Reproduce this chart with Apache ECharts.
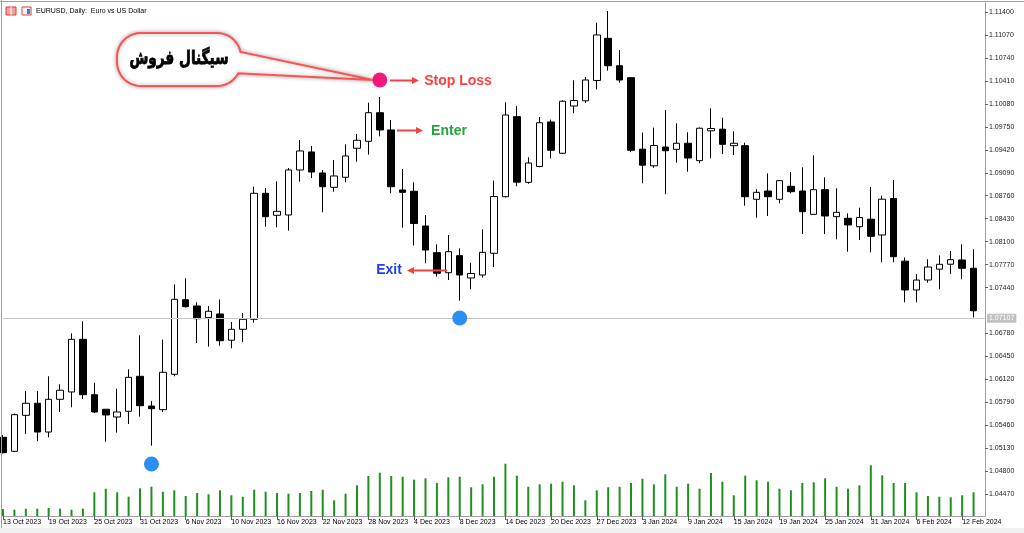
<!DOCTYPE html>
<html><head><meta charset="utf-8">
<script src="https://cdn.jsdelivr.net/npm/echarts@6/dist/echarts.min.js"></script>
<style>html,body{margin:0;padding:0;background:#fff;}#c{width:1024px;height:533px;}</style>
</head><body><div id="c"></div>
<script>
const DATES = ['13 Oct 2023','16 Oct 2023','17 Oct 2023','18 Oct 2023','19 Oct 2023','20 Oct 2023','23 Oct 2023','24 Oct 2023','25 Oct 2023','26 Oct 2023',
'27 Oct 2023','30 Oct 2023','31 Oct 2023','1 Nov 2023','2 Nov 2023','3 Nov 2023','6 Nov 2023','7 Nov 2023','8 Nov 2023','9 Nov 2023',
'10 Nov 2023','13 Nov 2023','14 Nov 2023','15 Nov 2023','16 Nov 2023','17 Nov 2023','20 Nov 2023','21 Nov 2023','22 Nov 2023','23 Nov 2023',
'24 Nov 2023','27 Nov 2023','28 Nov 2023','29 Nov 2023','30 Nov 2023','1 Dec 2023','4 Dec 2023','5 Dec 2023','6 Dec 2023','7 Dec 2023',
'8 Dec 2023','11 Dec 2023','12 Dec 2023','13 Dec 2023','14 Dec 2023','15 Dec 2023','18 Dec 2023','19 Dec 2023','20 Dec 2023','21 Dec 2023',
'22 Dec 2023','26 Dec 2023','27 Dec 2023','28 Dec 2023','29 Dec 2023','2 Jan 2024','3 Jan 2024','4 Jan 2024','5 Jan 2024','8 Jan 2024',
'9 Jan 2024','10 Jan 2024','11 Jan 2024','12 Jan 2024','15 Jan 2024','16 Jan 2024','17 Jan 2024','18 Jan 2024','19 Jan 2024','22 Jan 2024',
'23 Jan 2024','24 Jan 2024','25 Jan 2024','26 Jan 2024','29 Jan 2024','30 Jan 2024','31 Jan 2024','1 Feb 2024','2 Feb 2024','5 Feb 2024',
'6 Feb 2024','7 Feb 2024','8 Feb 2024','9 Feb 2024','12 Feb 2024','13 Feb 2024'];

const OPEN = [1.05289,1.05088,1.05605,1.05778,1.05365,1.05835,1.05940,1.06697,1.05901,1.05692,
1.05581,1.05663,1.06166,1.05739,1.05686,1.06195,1.07266,1.07176,1.07008,1.07061,
1.06684,1.06841,1.06985,1.08795,1.08479,1.08483,1.09130,1.09389,1.09087,1.08881,
1.09025,1.09442,1.09542,1.09953,1.09705,1.08843,1.08824,1.08325,1.07942,1.07654,
1.07899,1.07578,1.07621,1.07933,1.08746,1.09896,1.08953,1.09180,1.09820,1.09370,
1.10049,1.10124,1.10416,1.11022,1.10628,1.10456,1.09429,1.09190,1.09460,1.09427,
1.09514,1.09264,1.09693,1.09716,1.09479,1.09479,1.08709,1.08828,1.08709,1.08896,
1.08828,1.08493,1.08847,1.08459,1.08436,1.08315,1.08423,1.08196,1.08720,1.07820,
1.07406,1.07549,1.07705,1.07776,1.07837,1.07718];
const HIGH = [1.05322,1.05631,1.05955,1.05955,1.06166,1.06051,1.06784,1.06956,1.06074,1.05696,
1.05988,1.06266,1.06755,1.05811,1.06692,1.07485,1.07574,1.07229,1.07176,1.07269,
1.06946,1.07075,1.08890,1.08871,1.08968,1.09159,1.09561,1.09475,1.09130,1.09274,
1.09499,1.09647,1.10097,1.10179,1.09848,1.09144,1.08953,1.08483,1.08062,1.08196,
1.08005,1.07798,1.08278,1.08979,1.10103,1.10047,1.09314,1.09891,1.09854,1.10133,
1.10419,1.10466,1.11246,1.11414,1.10854,1.10459,1.09669,1.09738,1.09992,1.09801,
1.09672,1.09741,1.10016,1.09881,1.09687,1.09522,1.08853,1.09082,1.08982,1.09101,
1.09169,1.09341,1.09025,1.08867,1.08508,1.08588,1.08886,1.08761,1.08986,1.07873,
1.07636,1.07848,1.07904,1.07966,1.08062,1.07991];
const LOW = [1.05057,1.05078,1.05337,1.05232,1.05289,1.05653,1.05720,1.05840,1.05638,1.05226,
1.05355,1.05480,1.05585,1.05169,1.05653,1.06166,1.07154,1.06644,1.06591,1.06605,
1.06568,1.06656,1.06936,1.08315,1.08307,1.08258,1.08962,1.09015,1.08522,1.08818,
1.08953,1.09249,1.09350,1.09614,1.08795,1.08301,1.08045,1.07789,1.07597,1.07549,
1.07252,1.07416,1.07585,1.07736,1.08735,1.08896,1.08932,1.09169,1.09295,1.09357,
1.09945,1.10093,1.10289,1.10557,1.10384,1.09386,1.08939,1.09161,1.08781,1.09235,
1.09105,1.09226,1.09298,1.09360,1.09345,1.08617,1.08445,1.08469,1.08651,1.08795,
1.08210,1.08486,1.08210,1.08134,1.07956,1.08124,1.07947,1.07804,1.07804,1.07229,
1.07229,1.07511,1.07417,1.07633,1.07559,1.07011];
const CLOSE = [1.05068,1.05614,1.05778,1.05365,1.05835,1.05965,1.06697,1.05901,1.05653,1.05610,
1.05653,1.06151,1.05743,1.05700,1.06223,1.07272,1.07166,1.06993,1.07100,1.06677,
1.06841,1.06985,1.08795,1.08459,1.08536,1.09130,1.09403,1.09101,1.08890,1.09044,
1.09331,1.09557,1.09953,1.09705,1.08890,1.08809,1.08361,1.07980,1.07646,1.07956,
1.07621,1.07643,1.07947,1.08749,1.09920,1.08955,1.09230,1.09809,1.09414,1.10118,
1.10128,1.10423,1.11070,1.10628,1.10423,1.09413,1.09199,1.09482,1.09407,1.09514,
1.09302,1.09730,1.09726,1.09499,1.09514,1.08746,1.08809,1.08746,1.08976,1.08818,
1.08531,1.08847,1.08469,1.08522,1.08340,1.08447,1.08177,1.08710,1.07884,1.07406,
1.07549,1.07736,1.07775,1.07841,1.07718,1.07107];
const VOLUME = [7000,6300,7300,7300,8000,7300,6300,7300,23700,27300,
23700,19300,27700,29300,24300,25700,20000,23000,21700,25700,
20700,19300,26300,24300,23000,22300,23000,25000,26300,15700,
22300,30700,40000,43300,40000,39300,36300,37700,33000,38700,
39300,28700,31700,39300,52300,40300,29300,31700,32300,34300,
30700,15700,25700,28700,29300,33000,37300,31700,41700,29300,
32300,27300,43000,34300,20700,40300,35700,34300,27300,25700,
33000,33700,37700,29300,27300,30700,50700,40700,33000,33000,
23700,20000,19300,18700,20700,23700];
const PRICE_TICKS = [1.04470,1.04800,1.05130,1.05460,1.05790,1.06120,1.06450,1.06780,1.07440,1.07770,
1.08100,1.08430,1.08760,1.09090,1.09420,1.09750,1.10080,1.10410,1.10740,1.11070,1.11400];
const STOP_LOSS_POINT = ['29 Nov 2023', 1.10423];
const EXIT_POINTS = [['8 Dec 2023', 1.07003], ['1 Nov 2023', 1.04906]];
const TITLE = 'EURUSD, Daily:  Euro vs US Dollar';
const SIGNAL_TEXT = 'سیگنال فروش';

const chart = echarts.init(document.getElementById('c'), null, {renderer: 'canvas'});
const candles = DATES.map((d, i) => [OPEN[i], CLOSE[i], LOW[i], HIGH[i]]);
const lastPrice = CLOSE[CLOSE.length - 1];

function arrow(x1, x2, y, color) {
  const dir = x2 > x1 ? 1 : -1;
  const hx = x2 - dir * 7;
  return [
    {type: 'line', z: 100, shape: {x1: x1, y1: y, x2: hx, y2: y}, style: {stroke: color, lineWidth: 2}},
    {type: 'polygon', z: 100, shape: {points: [[x2, y], [hx, y - 3.5], [hx, y + 3.5]]}, style: {fill: color}}
  ];
}
function tag(text, cx, cy, color) {
  return {type: 'text', z: 101, x: cx, y: cy, style: {
    text: text, fill: color, font: 'bold 14px "Liberation Sans", Arial, sans-serif',
    align: 'center', verticalAlign: 'middle', stroke: '#ffffff', lineWidth: 4,
    shadowColor: 'rgba(0,0,0,0.28)', shadowBlur: 4}};
}
function arcPts(cx, cy, r, a0, a1) {
  const pts = [];
  const n = 10;
  for (let k = 0; k <= n; k++) {
    const a = (a0 + (a1 - a0) * k / n) * Math.PI / 180;
    pts.push([cx + r * Math.cos(a), cy + r * Math.sin(a)]);
  }
  return pts;
}
function bubblePoints() {
  const L = 117, R = 241, T = 33, B = 86, r = 24;
  return [].concat(
    arcPts(L + r, T + r, r, 180, 270),
    arcPts(R - r, T + r, r, 270, 348),
    [[373, 80]],
    arcPts(R - r, B - r, r, 28, 90),
    arcPts(L + r, B - r, r, 90, 180)
  );
}

const graphics = [
  {type: 'rect', z: -5, silent: true, shape: {x: 0, y: 528, width: 1024, height: 5}, style: {fill: '#f0f0f0'}},
  {type: 'line', z: 5, silent: true, shape: {x1: 0, y1: 1.5, x2: 1024, y2: 1.5}, style: {stroke: '#a0a0a0', lineWidth: 1}},
  {type: 'line', z: 5, silent: true, shape: {x1: 1.5, y1: 0, x2: 1.5, y2: 528}, style: {stroke: '#a0a0a0', lineWidth: 1}},
  {type: 'rect', z: 50, shape: {x: 6, y: 7, width: 10, height: 8}, style: {fill: '#f5a0a0', stroke: '#d04040', lineWidth: 1}},
  {type: 'line', z: 51, shape: {x1: 11, y1: 7, x2: 11, y2: 15}, style: {stroke: '#ffffff', lineWidth: 1}},
  {type: 'rect', z: 50, shape: {x: 22, y: 7, width: 9, height: 8}, style: {fill: '#ffffff', stroke: '#d04040', lineWidth: 1}},
  {type: 'rect', z: 51, shape: {x: 27, y: 9, width: 3, height: 5}, style: {fill: '#3a7fd0'}},
  {type: 'text', z: 50, x: 36, y: 11, style: {text: TITLE, fill: '#000', font: '7px "Liberation Sans", Arial, sans-serif', verticalAlign: 'middle'}},
  {type: 'polygon', z: 90, shape: {points: bubblePoints()},
    style: {fill: '#ffffff', stroke: '#ff5252', lineWidth: 2, shadowColor: 'rgba(0,0,0,0.3)', shadowBlur: 4}},
  {type: 'text', z: 91, x: 179, y: 59, scaleX: 0.72, style: {text: SIGNAL_TEXT, fill: '#000', font: 'bold 19px "DejaVu Sans", sans-serif', align: 'center', verticalAlign: 'middle', stroke: '#000', lineWidth: 0.8}},
  ...arrow(390, 419, 80.5, '#f04343'),
  ...arrow(397, 423, 130.5, '#f04343'),
  ...arrow(447, 407, 270.5, '#f04343'),
  tag('Stop Loss', 458, 81, '#ff4040'),
  tag('Enter', 449, 131, '#27a33c'),
  tag('Exit', 389, 270, '#1f3ff0')
];

chart.setOption({
  animation: false,
  backgroundColor: '#ffffff',
  textStyle: {fontFamily: '"Liberation Sans", Arial, sans-serif'},
  grid: {left: 3, right: 39, top: 3, height: 513},
  xAxis: {
    type: 'category', data: DATES.concat(['']), boundaryGap: false,
    axisLine: {show: true, lineStyle: {color: '#a0a0a0', width: 1}},
    axisTick: {show: true, interval: 3, length: 4, lineStyle: {color: '#606060'}},
    axisLabel: {interval: 3, align: 'left', fontSize: 7, color: '#000', margin: 3},
    splitLine: {show: false}
  },
  yAxis: [{
    type: 'value', position: 'right', min: 1.041583, max: 1.115293, scale: true,
    axisLine: {show: true, lineStyle: {color: '#a0a0a0', width: 1}},
    axisTick: {show: true, length: 3, customValues: PRICE_TICKS, lineStyle: {color: '#606060'}},
    axisLabel: {customValues: PRICE_TICKS, fontSize: 7, color: '#222', margin: 4, formatter: v => v.toFixed(5)},
    splitLine: {show: false}
  }, {
    type: 'value', min: 0, max: 513000, show: false, splitLine: {show: false}
  }],
  graphic: graphics,
  series: [{
    type: 'bar', name: 'Volume', xAxisIndex: 0, yAxisIndex: 1, data: VOLUME, barWidth: 2,
    itemStyle: {color: '#1f8f1f'}, silent: true, z: 1
  }, {
    type: 'candlestick', name: 'EURUSD', data: candles, barWidth: 7, clip: false, z: 3,
    itemStyle: {color: '#ffffff', color0: '#000000', borderColor: '#000000', borderColor0: '#000000', borderWidth: 1},
    markLine: {
      symbol: 'none', silent: true, animation: false,
      lineStyle: {color: '#c8c8c8', type: 'solid', width: 1},
      label: {position: 'end', distance: 2, formatter: () => lastPrice.toFixed(5), backgroundColor: '#c0c0c0', color: '#ffffff', fontSize: 7, padding: [1, 2, 1, 2]},
      data: [{yAxis: lastPrice}]
    }
  }, {
    type: 'scatter', name: 'Stop loss', data: [STOP_LOSS_POINT], symbolSize: 15, z: 10,
    itemStyle: {color: '#f2187f', opacity: 1}
  }, {
    type: 'scatter', name: 'Exit', data: EXIT_POINTS, symbolSize: 15, z: 10,
    itemStyle: {color: '#2b8ef2', opacity: 1}
  }]
});
</script>
</body></html>
